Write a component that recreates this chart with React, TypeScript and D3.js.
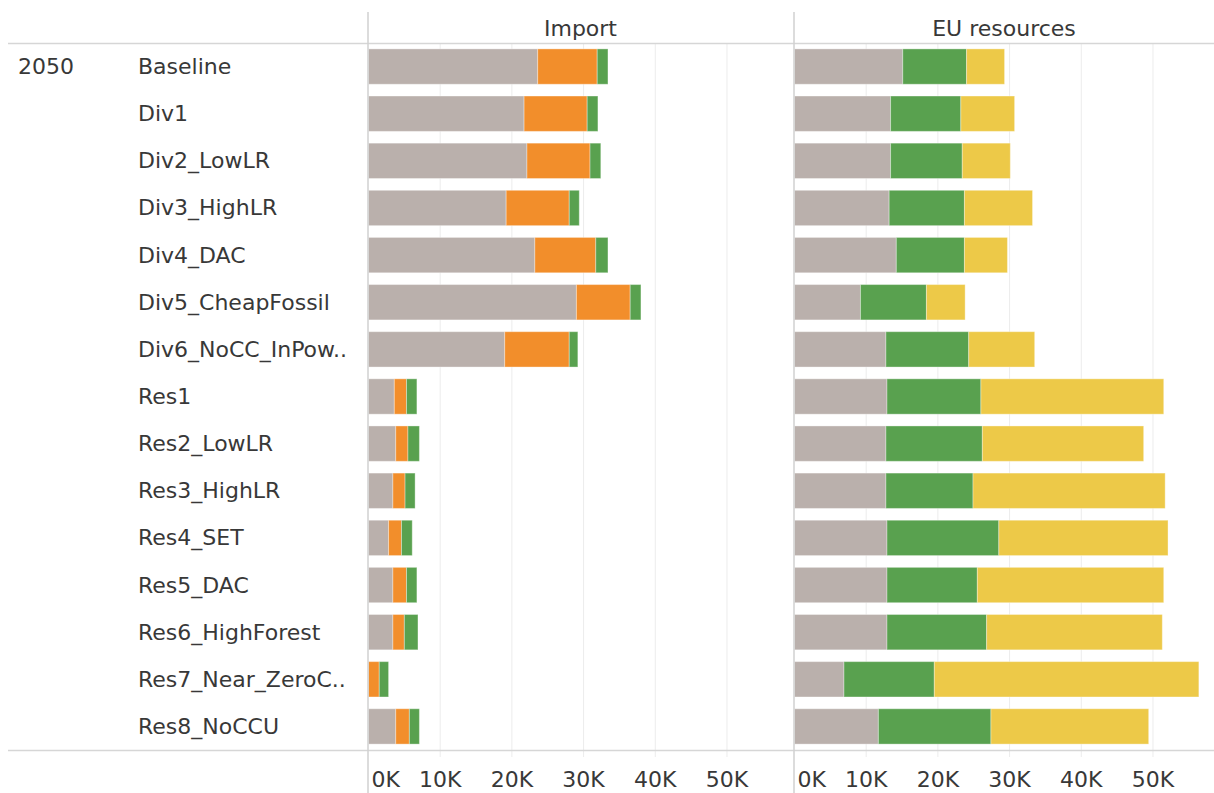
import React from "react";
import * as d3 from "d3";

const year = "2050";
const scenarios = [
  "Baseline", "Div1", "Div2_LowLR", "Div3_HighLR", "Div4_DAC", "Div5_CheapFossil",
  "Div6_NoCC_InPow..", "Res1", "Res2_LowLR", "Res3_HighLR", "Res4_SET", "Res5_DAC",
  "Res6_HighForest", "Res7_Near_ZeroC..", "Res8_NoCCU",
];

// Import panel segments
const importGray = [23600, 21700, 22100, 19200, 23200, 29000, 19000, 3600, 3800, 3400, 2800, 3400, 3400, 0, 3800];
const importOrange = [8300, 8800, 8800, 8800, 8500, 7500, 9000, 1700, 1700, 1700, 1800, 1900, 1600, 1500, 1900];
const importGreen = [1500, 1500, 1500, 1400, 1700, 1500, 1200, 1450, 1600, 1400, 1500, 1450, 1900, 1300, 1400];

// EU resources panel segments
const euGray = [15100, 13400, 13400, 13200, 14200, 9200, 12750, 12900, 12750, 12750, 12900, 12900, 12900, 6900, 11700];
const euGreen = [8900, 9800, 10000, 10500, 9500, 9200, 11550, 13100, 13450, 12150, 15600, 12600, 13900, 12600, 15700];
const euYellow = [5300, 7500, 6700, 9500, 6000, 5400, 9200, 25500, 22500, 26800, 23600, 26000, 24500, 36900, 22000];

const tickValues = [0, 10000, 20000, 30000, 40000, 50000];
const panelTitles = ["Import", "EU resources"];

const COLORS = {
  gray: "#bab0ac",
  orange: "#f28e2b",
  green: "#59a14f",
  yellow: "#edc948",
};

const W = 1214;
const H = 793;
const FONT = "'DejaVu Sans', 'Noto Sans', sans-serif";
const TEXT = "#383838";
const FS = 22;

export default function App() {
  const y = d3.scaleBand<string>().domain(scenarios).range([43, 750]).paddingInner(0.25).paddingOuter(0.125);
  const x = d3.scaleLinear().domain([0, 59000]).range([0, 423]);
  const panelX = [368.5, 794.5];

  const panels = [
    { series: [importGray, importOrange, importGreen], colors: [COLORS.gray, COLORS.orange, COLORS.green] },
    { series: [euGray, euGreen, euYellow], colors: [COLORS.gray, COLORS.green, COLORS.yellow] },
  ];

  return (
    <svg
      width={W}
      height={H}
      style={{ position: "fixed", left: 0, top: 0, background: "#fff" }}
      fontFamily={FONT}
    >
      <rect x={0} y={0} width={W} height={H} fill="#fff" />
      {/* gridlines */}
      {panelX.map((px, pi) =>
        tickValues.slice(1).map((t) => (
          <line key={`g${pi}-${t}`} x1={px + x(t)} x2={px + x(t)} y1={43} y2={757} stroke="#ececec" strokeWidth={1} />
        ))
      )}
      {/* horizontal lines */}
      <line x1={8} x2={W} y1={43.5} y2={43.5} stroke="#d6d6d6" strokeWidth={1.5} />
      <line x1={8} x2={W} y1={750.5} y2={750.5} stroke="#d6d6d6" strokeWidth={1.5} />

      {/* bars */}
      {panels.map((p, pi) =>
        scenarios.map((s, i) => {
          let acc = 0;
          return p.series.map((ser, si) => {
            const v = ser[i];
            const x0 = panelX[pi] + x(acc);
            acc += v;
            if (v <= 0) return null;
            return (
              <rect
                key={`b${pi}-${i}-${si}`}
                x={x0}
                y={y(s)!}
                width={x(v)}
                height={y.bandwidth()}
                fill={p.colors[si]}
                stroke="rgba(255,255,255,0.35)"
                strokeWidth={1}
              />
            );
          });
        })
      )}

      {/* zero / panel lines */}
      {panelX.map((px, pi) => (
        <line key={`z${pi}`} x1={px - 0.5} x2={px - 0.5} y1={12} y2={H} stroke="#d0d0d0" strokeWidth={1.5} />
      ))}

      {/* headers */}
      <text x={(368 + 793) / 2} y={28} textAnchor="middle" dominantBaseline="central" fontSize={FS} fill={TEXT}>
        {panelTitles[0]}
      </text>
      <text x={(794 + 1214) / 2} y={28} textAnchor="middle" dominantBaseline="central" fontSize={FS} fill={TEXT}>
        {panelTitles[1]}
      </text>

      {/* row labels */}
      <text x={18} y={y(scenarios[0])! + y.bandwidth() / 2} dominantBaseline="central" fontSize={FS} fill={TEXT}>
        {year}
      </text>
      {scenarios.map((s) => (
        <text key={`l${s}`} x={138} y={y(s)! + y.bandwidth() / 2} dominantBaseline="central" fontSize={FS} fill={TEXT}>
          {s}
        </text>
      ))}

      {/* tick labels */}
      {panelX.map((px, pi) =>
        tickValues.map((t) => (
          <text
            key={`t${pi}-${t}`}
            x={t === 0 ? px + 3 : px + x(t)}
            y={779}
            textAnchor={t === 0 ? "start" : "middle"}
            dominantBaseline="central"
            fontSize={FS}
            fill={TEXT}
          >
            {`${t / 1000}K`}
          </text>
        ))
      )}
    </svg>
  );
}
